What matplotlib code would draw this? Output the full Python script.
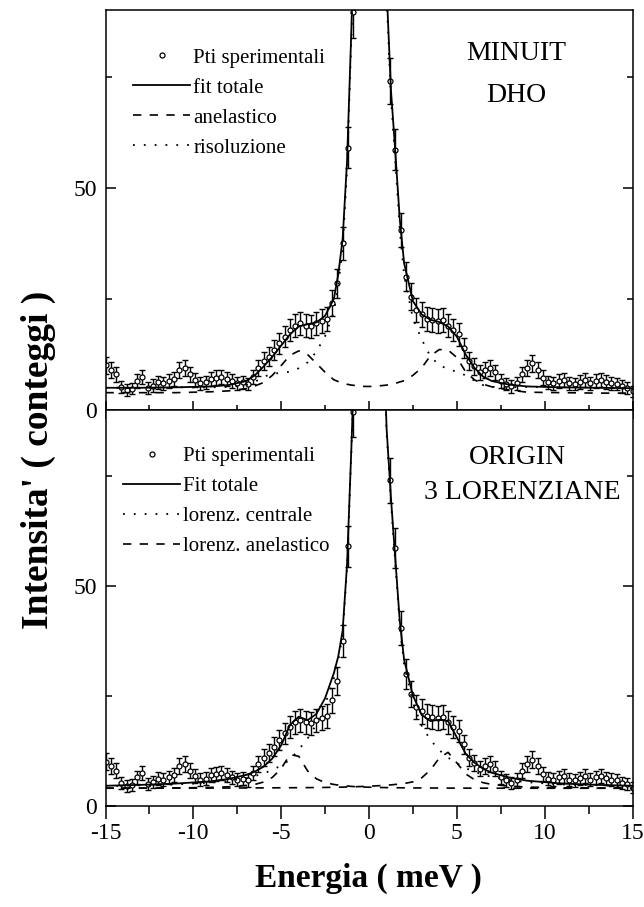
import numpy as np
import matplotlib
matplotlib.use("Agg")
import matplotlib.pyplot as plt
from matplotlib.ticker import MultipleLocator

plt.rcParams['font.family'] = ['Liberation Serif', 'DejaVu Serif']
plt.rcParams['axes.unicode_minus'] = False

# experimental points (same spectrum in both panels)
energy = np.linspace(-15, 15, 101)
counts = [10.1, 9.0, 8.0, 5.2, 4.5, 4.8, 6.5, 7.5, 5.0, 5.5,
          6.2, 6.0, 6.5, 7.0, 9.0, 9.5, 8.0, 6.8, 6.0, 6.2,
          7.0, 7.3, 7.5, 7.0, 6.5, 6.0, 6.2, 5.8, 7.5, 9.5,
          11.0, 12.0, 13.5, 15.0, 16.5, 18.0, 19.0, 19.5, 19.0, 18.8,
          19.5, 20.0, 20.5, 24.0, 28.5, 37.5, 59.0, 89.5, 135, 170,
          185, 170, 140, 105, 74.0, 58.6, 40.5, 30.0, 25.5, 22.5,
          21.5, 20.5, 20.3, 20.0, 20.3, 19.0, 18.0, 17.0, 14.0, 11.0,
          9.8, 8.5, 9.0, 9.5, 8.5, 6.5, 5.8, 5.3, 6.0, 8.0,
          9.5, 10.5, 9.0, 7.3, 6.2, 6.0, 6.5, 6.8, 6.0, 5.8,
          6.3, 6.8, 6.0, 6.5, 6.8, 6.3, 6.0, 5.8, 5.3, 5.0,
          4.2]
errors = [1.9, 1.8, 1.7, 1.4, 1.3, 1.3, 1.5, 1.6, 1.3, 1.4,
          1.5, 1.5, 1.5, 1.6, 1.8, 1.8, 1.7, 1.6, 1.5, 1.5,
          1.6, 1.6, 1.6, 1.6, 1.5, 1.5, 1.5, 1.4, 1.6, 1.8,
          2.0, 2.1, 2.2, 2.3, 2.4, 2.5, 2.6, 2.6, 2.6, 2.6,
          2.6, 2.7, 2.7, 2.9, 3.2, 3.7, 4.6, 5.7, 7.0, 7.8,
          8.2, 7.8, 7.1, 6.1, 5.2, 4.6, 3.8, 3.3, 3.0, 2.8,
          2.8, 2.7, 2.7, 2.7, 2.7, 2.6, 2.5, 2.5, 2.2, 2.0,
          1.9, 1.7, 1.8, 1.8, 1.7, 1.5, 1.4, 1.4, 1.5, 1.7,
          1.8, 1.9, 1.8, 1.6, 1.5, 1.5, 1.5, 1.6, 1.5, 1.4,
          1.5, 1.6, 1.5, 1.5, 1.6, 1.5, 1.5, 1.4, 1.4, 1.3,
          1.2]

# fitted curves, read at these energies
fit_e = [-15, -13, -11, -9, -8, -7, -6.5, -6, -5.5, -5, -4.5, -4,
         -3.5, -3, -2.5, -2, -1.75, -1.5, -1.25, -1, -0.75, -0.5, -0.25, 0,
         0.25, 0.5, 0.75, 1, 1.25, 1.5, 1.75, 2, 2.5, 3, 3.5, 4,
         4.5, 5, 5.5, 6, 6.5, 7, 8, 9, 11, 13, 15]

# top panel: MINUIT / DHO
dho_total = [5.0, 5.0, 5.1, 5.3, 5.6, 6.5, 7.8, 9.8, 12.0, 14.5, 17.0, 18.8,
             19.3, 19.7, 21.2, 25.0, 30.5, 38.5, 56, 86, 125, 165, 195, 205,
             200, 175, 135, 95, 72, 58, 43, 33, 24.5, 21.5, 20.3, 19.8,
             18.8, 16.5, 12.5, 9.5, 7.5, 6.5, 5.7, 5.3, 5.1, 5.0, 4.9]
dho_anel = [3.9, 3.9, 3.9, 4.1, 4.3, 4.8, 5.4, 6.2, 7.8, 10.0, 12.3, 13.3,
            12.5, 10.5, 8.5, 6.8, 6.4, 6.0, 5.8, 5.6, 5.5, 5.4, 5.3, 5.3,
            5.3, 5.4, 5.5, 5.6, 5.8, 6.0, 6.3, 6.6, 7.8, 9.5, 12.2, 13.6,
            13.5, 11.8, 8.6, 6.8, 5.8, 5.2, 4.5, 4.0, 3.9, 3.8, 3.8]
dho_resol = [5.0, 5.0, 5.1, 5.1, 5.2, 5.6, 6.3, 7.5, 8.1, 8.4, 8.6, 9.4,
             10.7, 13.1, 16.6, 22.1, 28.0, 36.4, 54, 84, 123, 163, 193, 203,
             198, 173, 133, 93, 70, 56, 40.6, 30.3, 20.6, 15.9, 12.0, 10.1,
             9.2, 8.6, 7.8, 6.6, 5.6, 5.2, 5.1, 5.2, 5.1, 5.1, 5.0]

# bottom panel: ORIGIN / 3 Lorentzians
lor_total = [4.6, 4.8, 5.1, 5.6, 6.15, 7.05, 7.8, 8.95, 10.8, 13.8, 18.4, 20.3,
             19.5, 20.9, 24.5, 30.2, 34.0, 39.9, 54.9, 81.8, 111.8, 139.8, 159.8, 167.8,
             164.8, 147.8, 117.9, 85.9, 70.0, 56.0, 42.1, 33.2, 25.1, 20.7, 19.3, 19.6,
             19.3, 15.6, 11.9, 9.85, 8.45, 7.55, 6.45, 5.75, 5.1, 4.8, 4.6]
lor_central = [4.5, 4.7, 4.9, 5.3, 5.7, 6.3, 6.8, 7.4, 8.2, 9.2, 10.5, 12.8,
               15.3, 18.5, 23.0, 29.0, 33.0, 39.0, 54, 81, 111, 139, 159, 167,
               164, 147, 117, 85, 69, 55, 41, 32, 23.5, 18.2, 15.0, 12.7,
               11.0, 9.7, 8.6, 7.8, 7.1, 6.6, 5.9, 5.4, 4.9, 4.7, 4.5]
lor_anel_neg = [4.05, 4.07, 4.11, 4.23, 4.37, 4.64, 4.9, 5.45, 6.5, 8.5, 11.7, 11.3,
                8.0, 6.2, 5.3, 4.9, 4.75, 4.6, 4.55, 4.45, 4.4, 4.35, 4.3, 4.27,
                4.25, 4.22, 4.2, 4.18, 4.16, 4.15, 4.14, 4.13, 4.11, 4.1, 4.09, 4.08,
                4.07, 4.06, 4.06, 4.05, 4.05, 4.05, 4.04, 4.04, 4.03, 4.03, 4.02]
lor_anel_pos = [4.04, 4.05, 4.06, 4.07, 4.08, 4.1, 4.11, 4.12, 4.13, 4.14, 4.15, 4.16,
                4.18, 4.2, 4.22, 4.25, 4.27, 4.29, 4.32, 4.36, 4.39, 4.42, 4.46, 4.5,
                4.55, 4.6, 4.66, 4.72, 4.8, 4.9, 5.0, 5.1, 5.5, 6.4, 8.2, 10.9,
                12.2, 9.8, 7.3, 6.0, 5.3, 4.9, 4.5, 4.3, 4.15, 4.09, 4.06]

W, H = 644, 907
fig = plt.figure(figsize=(W / 100, H / 100), dpi=100)
ax1 = fig.add_axes([105.5 / W, 1 - 410 / H, 527 / W, 400 / H])
ax2 = fig.add_axes([105.5 / W, 1 - 806 / H, 527 / W, 396 / H])

dash = (0, (5, 5))
dots = (0, (1, 5))


def draw_points(ax):
    ax.errorbar(energy, counts, yerr=errors, fmt='none', ecolor='black',
                elinewidth=1.0, capsize=2.2, capthick=1.0)
    ax.plot(energy, counts, 'o', ms=3.6, mfc='white', mec='black', mew=0.9,
            label='Pti sperimentali')


draw_points(ax1)
ax1.plot(fit_e, dho_total, color='black', lw=1.3, label='fit totale')
ax1.plot(fit_e, dho_anel, color='black', lw=1.2, ls=dash, label='anelastico')
ax1.plot(fit_e, dho_resol, color='black', lw=1.3, ls=dots, label='risoluzione')

draw_points(ax2)
ax2.plot(fit_e, lor_total, color='black', lw=1.3, label='Fit totale')
ax2.plot(fit_e, lor_central, color='black', lw=1.3, ls=dots, label='lorenz. centrale')
ax2.plot(fit_e, lor_anel_neg, color='black', lw=1.2, ls=dash, label='lorenz. anelastico')
ax2.plot(fit_e, lor_anel_pos, color='black', lw=1.2, ls=dash)

for ax in (ax1, ax2):
    ax.set_xlim(-15, 15)
    ax.set_ylim(0, 90)
    ax.xaxis.set_major_locator(MultipleLocator(5))
    ax.xaxis.set_minor_locator(MultipleLocator(2.5))
    ax.set_yticks([0, 50])
    ax.yaxis.set_minor_locator(MultipleLocator(25))
    for s in ax.spines.values():
        s.set_linewidth(1.1)
    ax.tick_params(axis='y', which='both', direction='in', left=True, right=True,
                   labelsize=17, pad=6, width=1.1)
    ax.tick_params(axis='y', which='major', length=7)
    ax.tick_params(axis='y', which='minor', length=4.5)
    ax.legend(loc='upper left', frameon=False, fontsize=15, borderpad=0,
              handlelength=2.75, handletextpad=0.15, labelspacing=0.5,
              borderaxespad=0, numpoints=1)

ax1.legend_.set_bbox_to_anchor((0.052, 0.905))
ax2.legend_.set_bbox_to_anchor((0.033, 0.907))

ax1.tick_params(axis='x', which='both', direction='inout', top=False,
                labelbottom=False, width=1.1)
ax1.tick_params(axis='x', which='major', length=13)
ax1.tick_params(axis='x', which='minor', length=7)
ax2.tick_params(axis='x', which='both', direction='out', top=False,
                labelsize=17, pad=3, width=1.1)
ax2.tick_params(axis='x', which='major', length=9.5)
ax2.tick_params(axis='x', which='minor', length=5.5)

fig.text(516 / W, 1 - 54 / H, 'MINUIT', fontsize=20, ha='center', va='center')
fig.text(516 / W, 1 - 95 / H, 'DHO', fontsize=20, ha='center', va='center')
fig.text(517 / W, 1 - 457 / H, 'ORIGIN', fontsize=20, ha='center', va='center')
fig.text(522 / W, 1 - 493 / H, '3 LORENZIANE', fontsize=20, ha='center', va='center')

fig.text(368 / W, 1 - 878 / H, 'Energia ( meV )', fontsize=24, fontweight='bold',
         ha='center', va='center')
fig.text(38 / W, 1 - 460 / H, "Intensita' ( conteggi )", fontsize=27,
         fontweight='bold', rotation=90, ha='center', va='center')

fig.savefig('out.png', dpi=100)
